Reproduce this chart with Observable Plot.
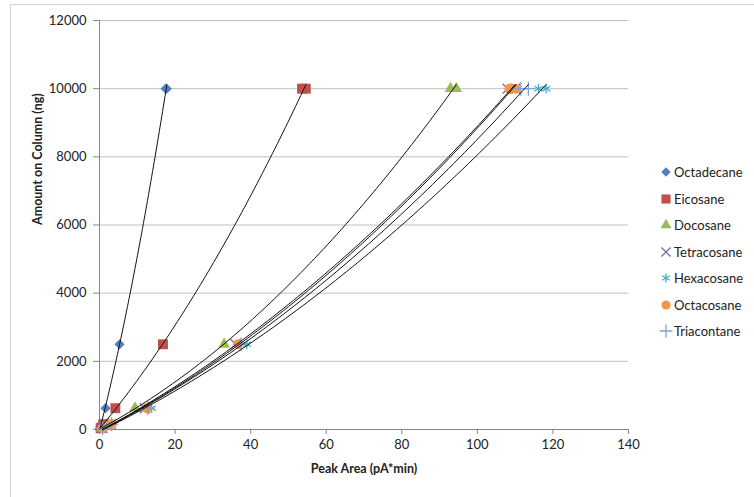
<!DOCTYPE html>
<html><head><meta charset="utf-8">
<script src="https://cdn.jsdelivr.net/npm/d3@7"></script>
<script src="https://cdn.jsdelivr.net/npm/@observablehq/plot@0.6"></script>
<style>
body{margin:0;background:#fff;font-family:Lato,"Open Sans",sans-serif;}
#wrap{position:relative;width:754px;height:497px;overflow:hidden;background:#fff;}
#frame{position:absolute;left:10px;top:4px;width:800px;height:600px;border-left:1px solid #d4d4d4;border-top:1px solid #d4d4d4;}
#chart{position:absolute;left:0;top:0;}
#legend{position:absolute;left:659px;top:159px;font-size:13px;color:#222;}
.row{display:flex;align-items:center;height:26.5px;}
.row svg{width:14px;height:14px;margin-right:1px;overflow:visible;}
</style></head><body>
<div id="wrap"><div id="frame"></div><div id="chart"></div><div id="legend"></div></div>
<script>
// Data (amount on column, ng) and peak areas (pA*min) per compound
const amounts = [39, 156, 625, 2500, 10000, 10000];
const seriesNames = ["Octadecane","Eicosane","Docosane","Tetracosane","Hexacosane","Octacosane","Triacontane"];
const octadecane  = [0.1, 0.4, 1.6, 5.3, 17.5, 17.8];
const eicosane    = [0.3, 1.0, 4.2, 16.8, 53.6, 54.6];
const docosane    = [0.6, 2.3, 9.4, 33.0, 92.9, 94.4];
const tetracosane = [0.8, 3.0, 12.0, 36.0, 108.0, 110.0];
const hexacosane  = [0.9, 3.4, 13.8, 39.0, 116.2, 118.2];
const octacosane  = [0.8, 3.1, 12.5, 36.6, 108.5, 110.2];
const triacontane = [0.8, 3.2, 12.8, 37.5, 111.5, 113.5];
const xTicks = [0, 20, 40, 60, 80, 100, 120, 140];
const yTicks = [0, 2000, 4000, 6000, 8000, 10000, 12000];

const values = [octadecane, eicosane, docosane, tetracosane, hexacosane, octacosane, triacontane];
const styles = [
  {symbol: "diamond2", color: "#4F81BD", filled: true, r: 4.6},
  {symbol: "square", color: "#C0504D", filled: true, r: 5.6},
  {symbol: "triangle", color: "#9BBB59", filled: true, r: 4.4},
  {symbol: "times", color: "#8064A2", filled: false, r: 4.6},
  {symbol: "asterisk", color: "#4BACC6", filled: false, r: 4.6},
  {symbol: "circle", color: "#F79646", filled: true, r: 5},
  {symbol: "plus", color: "#7EA1D6", filled: false, r: 4.6}
];

function quadFit(xs, ys) {
  const S = [[0,0,0],[0,0,0],[0,0,0]], T = [0,0,0];
  xs.forEach((x, i) => {
    const p = [1, x, x*x];
    for (let a = 0; a < 3; a++) { T[a] += p[a]*ys[i]; for (let b = 0; b < 3; b++) S[a][b] += p[a]*p[b]; }
  });
  const M = S.map((r, i) => [...r, T[i]]);
  for (let c = 0; c < 3; c++) {
    let piv = c; for (let r = c+1; r < 3; r++) if (Math.abs(M[r][c]) > Math.abs(M[piv][c])) piv = r;
    [M[c], M[piv]] = [M[piv], M[c]];
    for (let r = 0; r < 3; r++) if (r !== c) { const f = M[r][c]/M[c][c]; for (let k = c; k < 4; k++) M[r][k] -= f*M[c][k]; }
  }
  return M.map((r, i) => r[3]/r[i]);
}

const marks = [];
marks.push(Plot.ruleY(yTicks.filter(d => d > 0), {stroke: "#c0c0c0", strokeWidth: 1}));
marks.push(Plot.ruleX([0], {stroke: "#868686"}));
marks.push(Plot.ruleY([0], {stroke: "#868686"}));
marks.push(Plot.axisX({ticks: xTicks, tickSize: 5, tickPadding: 5, tickFormat: d => String(d), label: null, stroke: "#868686", fill: "#222", fontSize: 13}));
marks.push(Plot.axisY({ticks: yTicks, tickSize: 6, tickPadding: 7, tickFormat: d => String(d), label: null, stroke: "#868686", fill: "#222", fontSize: 13}));

values.forEach((xs, k) => {
  const st = styles[k];
  const data = xs.map((x, i) => ({x, y: amounts[i]}));
  marks.push(Plot.dot(data, {x: "x", y: "y", symbol: st.symbol, r: st.r,
    fill: st.filled ? st.color : "none", stroke: st.filled ? "none" : st.color, strokeWidth: 1.3}));
});
values.forEach((xs, k) => {
  const [a, b, c] = quadFit(xs, amounts);
  const x0 = d3.min(xs), x1 = d3.max(xs);
  const curve = d3.range(0, 81).map(i => { const x = x0 + (x1 - x0)*i/80; return {x, y: a + b*x + c*x*x}; });
  marks.push(Plot.line(curve, {x: "x", y: "y", stroke: "#111", strokeWidth: 1}));
});
marks.push(Plot.text(["Amount on Column (ng)"], {frameAnchor: "left", dx: -62, rotate: -90, fontWeight: "bold", fontSize: 12.5, fill: "#222"}));
marks.push(Plot.text(["Peak Area (pA*min)"], {frameAnchor: "bottom", dy: 43, fontWeight: "bold", fontSize: 12.5, fill: "#222"}));

const chart = Plot.plot({
  width: 754, height: 497,
  marginLeft: 99, marginRight: 126, marginTop: 20, marginBottom: 68,
  style: {fontFamily: "Lato, 'Open Sans', sans-serif", background: "transparent", color: "#222"},
  x: {domain: [0, 140]},
  y: {domain: [0, 12000]},
  marks
});
document.getElementById("chart").appendChild(chart);

// Legend
const legend = d3.select("#legend");
seriesNames.forEach((name, k) => {
  const st = styles[k];
  const row = legend.append("div").attr("class", "row");
  const svg = row.append("svg").attr("viewBox", "-7 -7 14 14");
  const sym = {diamond2: d3.symbolDiamond2, square: d3.symbolSquare, triangle: d3.symbolTriangle,
    times: d3.symbolTimes, asterisk: d3.symbolAsterisk, circle: d3.symbolCircle, plus: d3.symbolPlus}[st.symbol];
  svg.append("path").attr("d", d3.symbol(sym, Math.PI*st.r*st.r*0.85)())
    .attr("fill", st.filled ? st.color : "none").attr("stroke", st.filled ? "none" : st.color).attr("stroke-width", 1.3);
  row.append("span").text(name);
});
</script>
</body></html>
